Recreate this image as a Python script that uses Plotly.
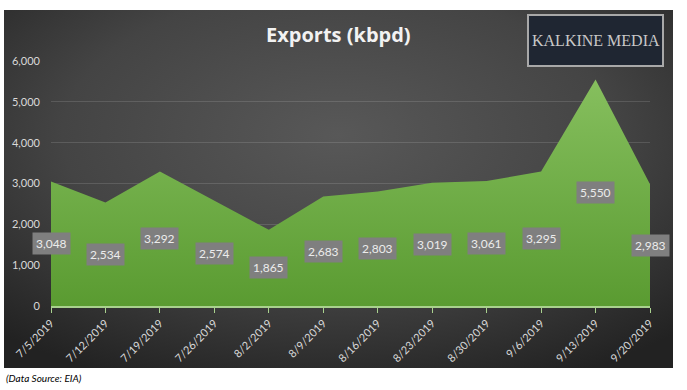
import base64
import plotly.graph_objects as go

dates = ["7/5/2019", "7/12/2019", "7/19/2019", "7/26/2019", "8/2/2019", "8/9/2019",
         "8/16/2019", "8/23/2019", "8/30/2019", "9/6/2019", "9/13/2019", "9/20/2019"]
exports = [3048, 2534, 3292, 2574, 1865, 2683, 2803, 3019, 3061, 3295, 5550, 2983]
y_ticks = [0, 1000, 2000, 3000, 4000, 5000, 6000]

W, H = 687, 390
L, R, T, B = 51, 650, 61, 306  # plot area pixel box


def px_x(p):
    return (p - L) / (R - L)


def px_y(p):
    return (B - p) / (B - T)


svg = (
    '<svg xmlns="http://www.w3.org/2000/svg" width="669" height="358">'
    '<defs><radialGradient id="g" cx="0.5" cy="0.35" r="0.75">'
    '<stop offset="0" stop-color="#585858"/>'
    '<stop offset="0.55" stop-color="#444444"/>'
    '<stop offset="1" stop-color="#222222"/>'
    '</radialGradient></defs>'
    '<rect width="669" height="358" fill="url(#g)"/></svg>'
)
bg_src = "data:image/svg+xml;base64," + base64.b64encode(svg.encode()).decode()

fig = go.Figure()
fig.add_trace(go.Scatter(
    x=dates, y=exports, mode="lines", line=dict(width=0, color="#70ad47"),
    fill="tozeroy",
    fillgradient=dict(type="vertical",
                      colorscale=[[0, "#5a9b31"], [1, "#86bf5e"]]),
    hoverinfo="skip", showlegend=False,
))

annotations = []
for d, v in zip(dates, exports):
    annotations.append(dict(
        x=d, y=v / 2, xref="x", yref="y", text=f"{v:,}", showarrow=False,
        bgcolor="#7f7f7f", borderpad=3,
        font=dict(family="Lato, sans-serif", size=12, color="#ececec"),
    ))

annotations.append(dict(
    x=px_x(338), y=px_y(34), xref="paper", yref="paper", text="<b>Exports (kbpd)</b>",
    showarrow=False, xanchor="center", yanchor="middle",
    font=dict(family="Open Sans, sans-serif", size=20, color="#f2f2f2"),
))
annotations.append(dict(
    x=px_x(595.5), y=px_y(40.5), xref="paper", yref="paper", text="KALKINE MEDIA",
    showarrow=False, xanchor="center", yanchor="middle",
    font=dict(family="Liberation Serif, serif", size=16, color="#c8c8c8"),
))
annotations.append(dict(
    x=px_x(4), y=px_y(378), xref="paper", yref="paper", text="<i>(Data Source: EIA)</i>",
    showarrow=False, xanchor="left", yanchor="middle",
    font=dict(family="Lato, sans-serif", size=10, color="#000000"),
))

shapes = [
    dict(type="rect", xref="paper", yref="paper",
         x0=px_x(528), x1=px_x(663), y0=px_y(15), y1=px_y(66),
         fillcolor="#1f2632", line=dict(color="#a8a8a8", width=2), layer="below"),
]

fig.update_layout(
    width=W, height=H,
    margin=dict(l=L, r=W - R, t=T, b=H - B, autoexpand=False),
    paper_bgcolor="#ffffff", plot_bgcolor="rgba(0,0,0,0)",
    images=[dict(source=bg_src, xref="paper", yref="paper",
                 x=px_x(4), y=px_y(10), sizex=px_x(673) - px_x(4),
                 sizey=px_y(10) - px_y(368), sizing="stretch",
                 xanchor="left", yanchor="top", layer="below")],
    annotations=annotations, shapes=shapes,
    xaxis=dict(
        type="category", range=[0, len(dates) - 1], showgrid=False, automargin=False,
        showline=True, linecolor="#a9d18e", linewidth=1.5,
        ticks="outside", ticklen=5, tickcolor="#a9d18e", tickwidth=1,
        tickangle=-45, tickfont=dict(family="Lato, sans-serif", size=11, color="#d9d9d9"),
        zeroline=False,
    ),
    yaxis=dict(
        range=[0, 6000], tickvals=y_ticks, tickformat=",d", automargin=False,
        showgrid=True, gridcolor="rgba(255,255,255,0.13)", gridwidth=1,
        zeroline=False, showline=False, ticks="", ticklabelstandoff=10,
        tickfont=dict(family="Lato, sans-serif", size=11, color="#d9d9d9"),
    ),
)

fig.write_html("out.html", config={"displayModeBar": False},
               post_script="document.body.style.margin='0';")
